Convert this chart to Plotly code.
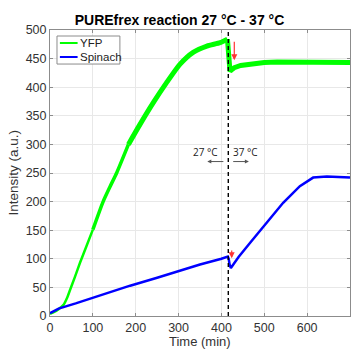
import plotly.graph_objects as go

# --- data ---
yfp_t = [0, 10, 20, 31, 40, 47, 58, 70, 85, 100, 124, 140, 156, 183, 210, 241, 272, 303, 334, 366, 397, 414,
         416, 418, 420, 423, 430, 445, 470, 500, 530, 560, 600, 640, 670, 700]
yfp_v = [4, 7, 12, 19, 32, 46, 68, 93, 122, 151, 200, 226, 251, 300, 335, 373, 408, 440, 461, 472, 478, 484,
         470, 440, 428, 430, 434, 438, 441, 443, 444, 444, 444, 444, 443, 443]

spinach_t = [0, 10, 20, 60, 100, 150, 187, 250, 300, 350, 400, 415, 417, 419, 422,
             440, 467, 506, 544, 583, 614, 646, 670, 700]
spinach_v = [5, 9, 13, 22, 32, 44, 53, 67, 79, 90, 100, 104, 100, 90, 84,
             103, 128, 163, 198, 227, 242, 244, 243, 242]

series_names = ["YFP", "Spinach"]
switch_time = 416
x_ticks = [0, 100, 200, 300, 400, 500, 600, 700]
y_ticks = [0, 50, 100, 150, 200, 250, 300, 350, 400, 450, 500]

GREEN = "#00ff00"
BLUE = "#0000ff"
FONT = "Liberation Sans, Arial, sans-serif"

fig = go.Figure()

# YFP: thin at the start, noisy band later
fig.add_trace(go.Scatter(x=yfp_t[:10], y=yfp_v[:10], mode="lines",
                         line=dict(color=GREEN, width=2.5, shape="spline", smoothing=0.6),
                         showlegend=False, name=series_names[0]))
fig.add_trace(go.Scatter(x=yfp_t[9:14], y=yfp_v[9:14], mode="lines",
                         line=dict(color=GREEN, width=3.5, shape="spline", smoothing=0.6),
                         showlegend=False, name=series_names[0]))
fig.add_trace(go.Scatter(x=yfp_t[13:22], y=yfp_v[13:22], mode="lines",
                         line=dict(color=GREEN, width=5, shape="spline", smoothing=0.6),
                         showlegend=False, name=series_names[0]))
fig.add_trace(go.Scatter(x=yfp_t[21:], y=yfp_v[21:], mode="lines",
                         line=dict(color=GREEN, width=5),
                         showlegend=False, name=series_names[0]))
fig.add_trace(go.Scatter(x=spinach_t, y=spinach_v, mode="lines",
                         line=dict(color=BLUE, width=2.5), showlegend=False, name=series_names[1]))

# dashed switch line
fig.add_shape(type="line", x0=switch_time, x1=switch_time, y0=0, y1=500,
              xref="x", yref="y", line=dict(color="black", width=1.4, dash="4px,3px"))

# compact legend (MATLAB style)
fig.add_shape(type="rect", xref="paper", yref="paper", x0=0.0233, x1=0.233, y0=0.881, y1=0.979,
              line=dict(color="#8c8c8c", width=1), fillcolor="white", layer="above")
for i, (name, col) in enumerate(zip(series_names, [GREEN, BLUE])):
    yy = 0.9545 - i * 0.049
    fig.add_shape(type="line", xref="paper", yref="paper", x0=0.033, x1=0.092, y0=yy, y1=yy,
                  line=dict(color=col, width=2), layer="above")
    fig.add_annotation(xref="paper", yref="paper", x=0.092, y=yy, text=name, showarrow=False,
                       xanchor="left", yanchor="middle",
                       font=dict(family=FONT, size=11.5, color="#222222"))

# red arrows
fig.add_annotation(x=430, y=447, ax=430, ay=482, xref="x", yref="y", axref="x", ayref="y",
                   showarrow=True, arrowhead=2, arrowsize=1, arrowwidth=1.2, arrowcolor="#ff3333", text="")
fig.add_annotation(x=424, y=101, ax=424, ay=117, xref="x", yref="y", axref="x", ayref="y",
                   showarrow=True, arrowhead=2, arrowsize=1, arrowwidth=1.2, arrowcolor="#ff3333", text="")

# temperature arrows and labels
fig.add_annotation(x=367, y=270, ax=408, ay=270, xref="x", yref="y", axref="x", ayref="y",
                   showarrow=True, arrowhead=2, arrowsize=0.8, arrowwidth=1, arrowcolor="#555555", text="")
fig.add_annotation(x=464, y=270, ax=424, ay=270, xref="x", yref="y", axref="x", ayref="y",
                   showarrow=True, arrowhead=2, arrowsize=0.8, arrowwidth=1, arrowcolor="#555555", text="")
fig.add_annotation(x=363, y=286, xref="x", yref="y", text="27 °C", showarrow=False,
                   font=dict(family="Open Sans, sans-serif", size=10, color="#222222"))
fig.add_annotation(x=457, y=286, xref="x", yref="y", text="37 °C", showarrow=False,
                   font=dict(family="Open Sans, sans-serif", size=10, color="#222222"))

# axis titles as paper annotations (fixed positions)
fig.add_annotation(xref="paper", yref="paper", x=0.5, y=-0.056, yanchor="top", xanchor="center",
                   text="Time (min)", showarrow=False,
                   font=dict(family=FONT, size=13, color="#333333"))
fig.add_annotation(xref="paper", yref="paper", x=-0.125, y=0.5, xanchor="center", yanchor="middle",
                   text="Intensity (a.u.)", textangle=-90, showarrow=False,
                   font=dict(family=FONT, size=13.5, color="#333333"))

axis_common = dict(showline=True, mirror="ticks", linecolor="#8c8c8c", linewidth=1,
                   ticks="inside", ticklen=3, tickcolor="#8c8c8c",
                   showgrid=True, gridcolor="#e8e8e8", gridwidth=1, zeroline=False,
                   automargin=False,
                   tickfont=dict(family=FONT, size=12.5, color="#333333"))

fig.update_layout(
    width=359, height=350,
    margin=dict(l=50, r=9, t=30, b=34),
    paper_bgcolor="white", plot_bgcolor="white",
    title=dict(text="<b>PUREfrex reaction 27 °C - 37 °C</b>", x=0.5, xanchor="center",
               y=0.943, yanchor="middle",
               font=dict(family=FONT, size=14, color="black")),
    xaxis=dict(range=[0, 700], tickvals=x_ticks, **axis_common),
    yaxis=dict(range=[0, 500], tickvals=y_ticks, **axis_common),
    showlegend=False,
)

fig.write_html("out.html", post_script="document.body.style.margin='0';",
               config={"displayModeBar": False})
